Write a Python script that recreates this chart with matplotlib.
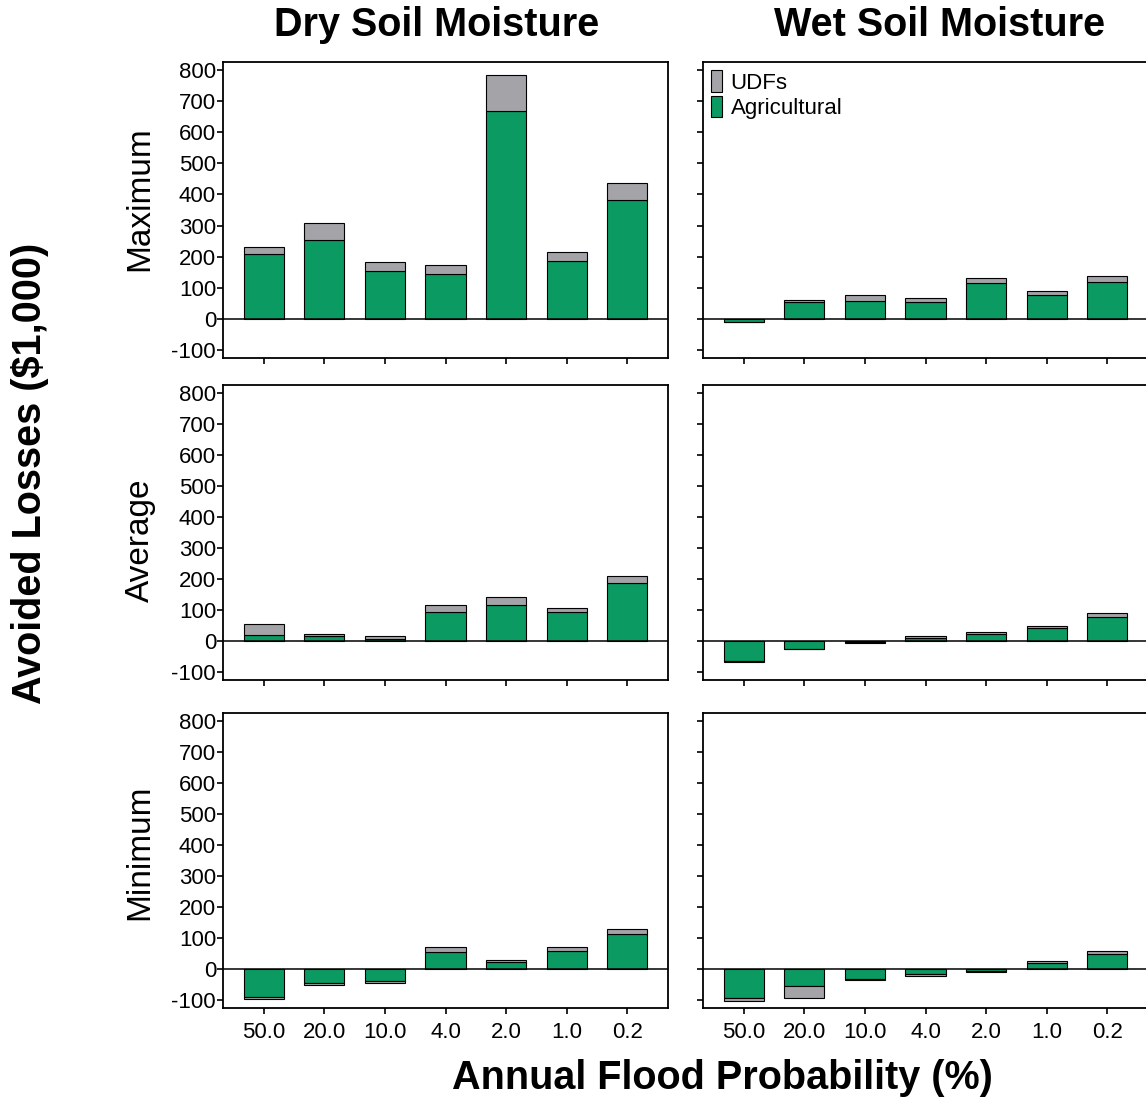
import matplotlib
matplotlib.use("Agg")
import matplotlib.pyplot as plt
import numpy as np
from matplotlib.patches import Patch

plt.rcParams['font.family'] = ['Liberation Sans', 'DejaVu Sans']

categories = ["50.0", "20.0", "10.0", "4.0", "2.0", "1.0", "0.2"]

dry_max_ag = [210, 254, 154, 145, 669, 186, 381]
dry_max_udf = [22, 53, 28, 27, 114, 28, 56]
wet_max_ag = [-10, 54, 57, 54, 116, 76, 118]
wet_max_udf = [0, 7, 19, 12, 15, 14, 20]

dry_avg_ag = [19, 16, 6, 94, 118, 93, 187]
dry_avg_udf = [35, 6, 10, 21, 23, 15, 23]
wet_avg_ag = [-63, -24, -4, 10, 22, 44, 77]
wet_avg_udf = [-5, -2, -2, 6, 7, 6, 15]

dry_min_ag = [-88, -45, -37, 56, 22, 60, 114]
dry_min_udf = [-8, -6, -8, 17, 8, 11, 16]
wet_min_ag = [-94, -53, -30, -17, -7, 21, 50]
wet_min_udf = [-7, -40, -6, -4, -1, 6, 7]

row_labels = ["Maximum", "Average", "Minimum"]
col_titles = ["Dry Soil Moisture", "Wet Soil Moisture"]
yticks = [-100, 0, 100, 200, 300, 400, 500, 600, 700, 800]

panels = [
    [(dry_max_ag, dry_max_udf), (wet_max_ag, wet_max_udf)],
    [(dry_avg_ag, dry_avg_udf), (wet_avg_ag, wet_avg_udf)],
    [(dry_min_ag, dry_min_udf), (wet_min_ag, wet_min_udf)],
]

GREEN = "#0b9a62"
GREY = "#a3a3a8"

W, H = 1146, 1101
fig = plt.figure(figsize=(W / 100, H / 100), dpi=100)

col_x = [223, 703]
row_y = [(62, 358), (385, 680), (713, 1008)]
pw = 445

x = np.arange(len(categories))
for r in range(3):
    for c in range(2):
        top, bot = row_y[r]
        ax = fig.add_axes([col_x[c] / W, 1 - bot / H, pw / W, (bot - top) / H])
        ag, udf = panels[r][c]
        ag = np.array(ag, dtype=float)
        udf = np.array(udf, dtype=float)
        ax.bar(x, ag, width=0.66, color=GREEN, edgecolor="black", linewidth=0.8, zorder=2)
        ax.bar(x, udf, width=0.66, bottom=ag, color=GREY, edgecolor="black", linewidth=0.8, zorder=2)
        ax.axhline(0, color="black", linewidth=1.1, zorder=3)
        ax.set_xlim(-0.67, 6.67)
        ax.set_ylim(-125, 825)
        ax.set_yticks(yticks)
        ax.set_xticks(x)
        for s in ax.spines.values():
            s.set_linewidth(1.3)
        ax.tick_params(axis="both", direction="out", length=4, width=1.2, labelsize=16, pad=1)
        if c == 0:
            ax.set_yticklabels([str(v) for v in yticks])
        else:
            ax.set_yticklabels([])
        if r == 2:
            ax.set_xticklabels(categories)
            ax.tick_params(axis="x", pad=6)
        else:
            ax.set_xticklabels([])
        if r == 0 and c == 1:
            handles = [Patch(facecolor=GREY, edgecolor="black", linewidth=0.8, label="UDFs"),
                       Patch(facecolor=GREEN, edgecolor="black", linewidth=0.8, label="Agricultural")]
            ax.legend(handles=handles, loc="upper left", bbox_to_anchor=(0.017, 0.972),
                      frameon=False, fontsize=16, handlelength=0.5, handleheight=1.1,
                      handletextpad=0.4, labelspacing=0.1, borderpad=0, borderaxespad=0)

# column titles
fig.text(437 / W, 1 - 25 / H, col_titles[0], ha="center", va="center", fontsize=28.5, fontweight="bold")
fig.text(940 / W, 1 - 25 / H, col_titles[1], ha="center", va="center", fontsize=28.5, fontweight="bold")

# row labels
row_centers = [199, 540, 852]
for lab, yc in zip(row_labels, row_centers):
    fig.text(140 / W, 1 - yc / H, lab, ha="center", va="center", rotation=90, fontsize=24)

fig.text(30 / W, 1 - 473 / H, "Avoided Losses ($1,000)", ha="center", va="center",
         rotation=90, fontsize=28.5, fontweight="bold")
fig.text(722 / W, 1 - 1089 / H, "Annual Flood Probability (%)", ha="center", va="baseline",
         fontsize=28.5, fontweight="bold")

fig.savefig("out.png", dpi=100)
